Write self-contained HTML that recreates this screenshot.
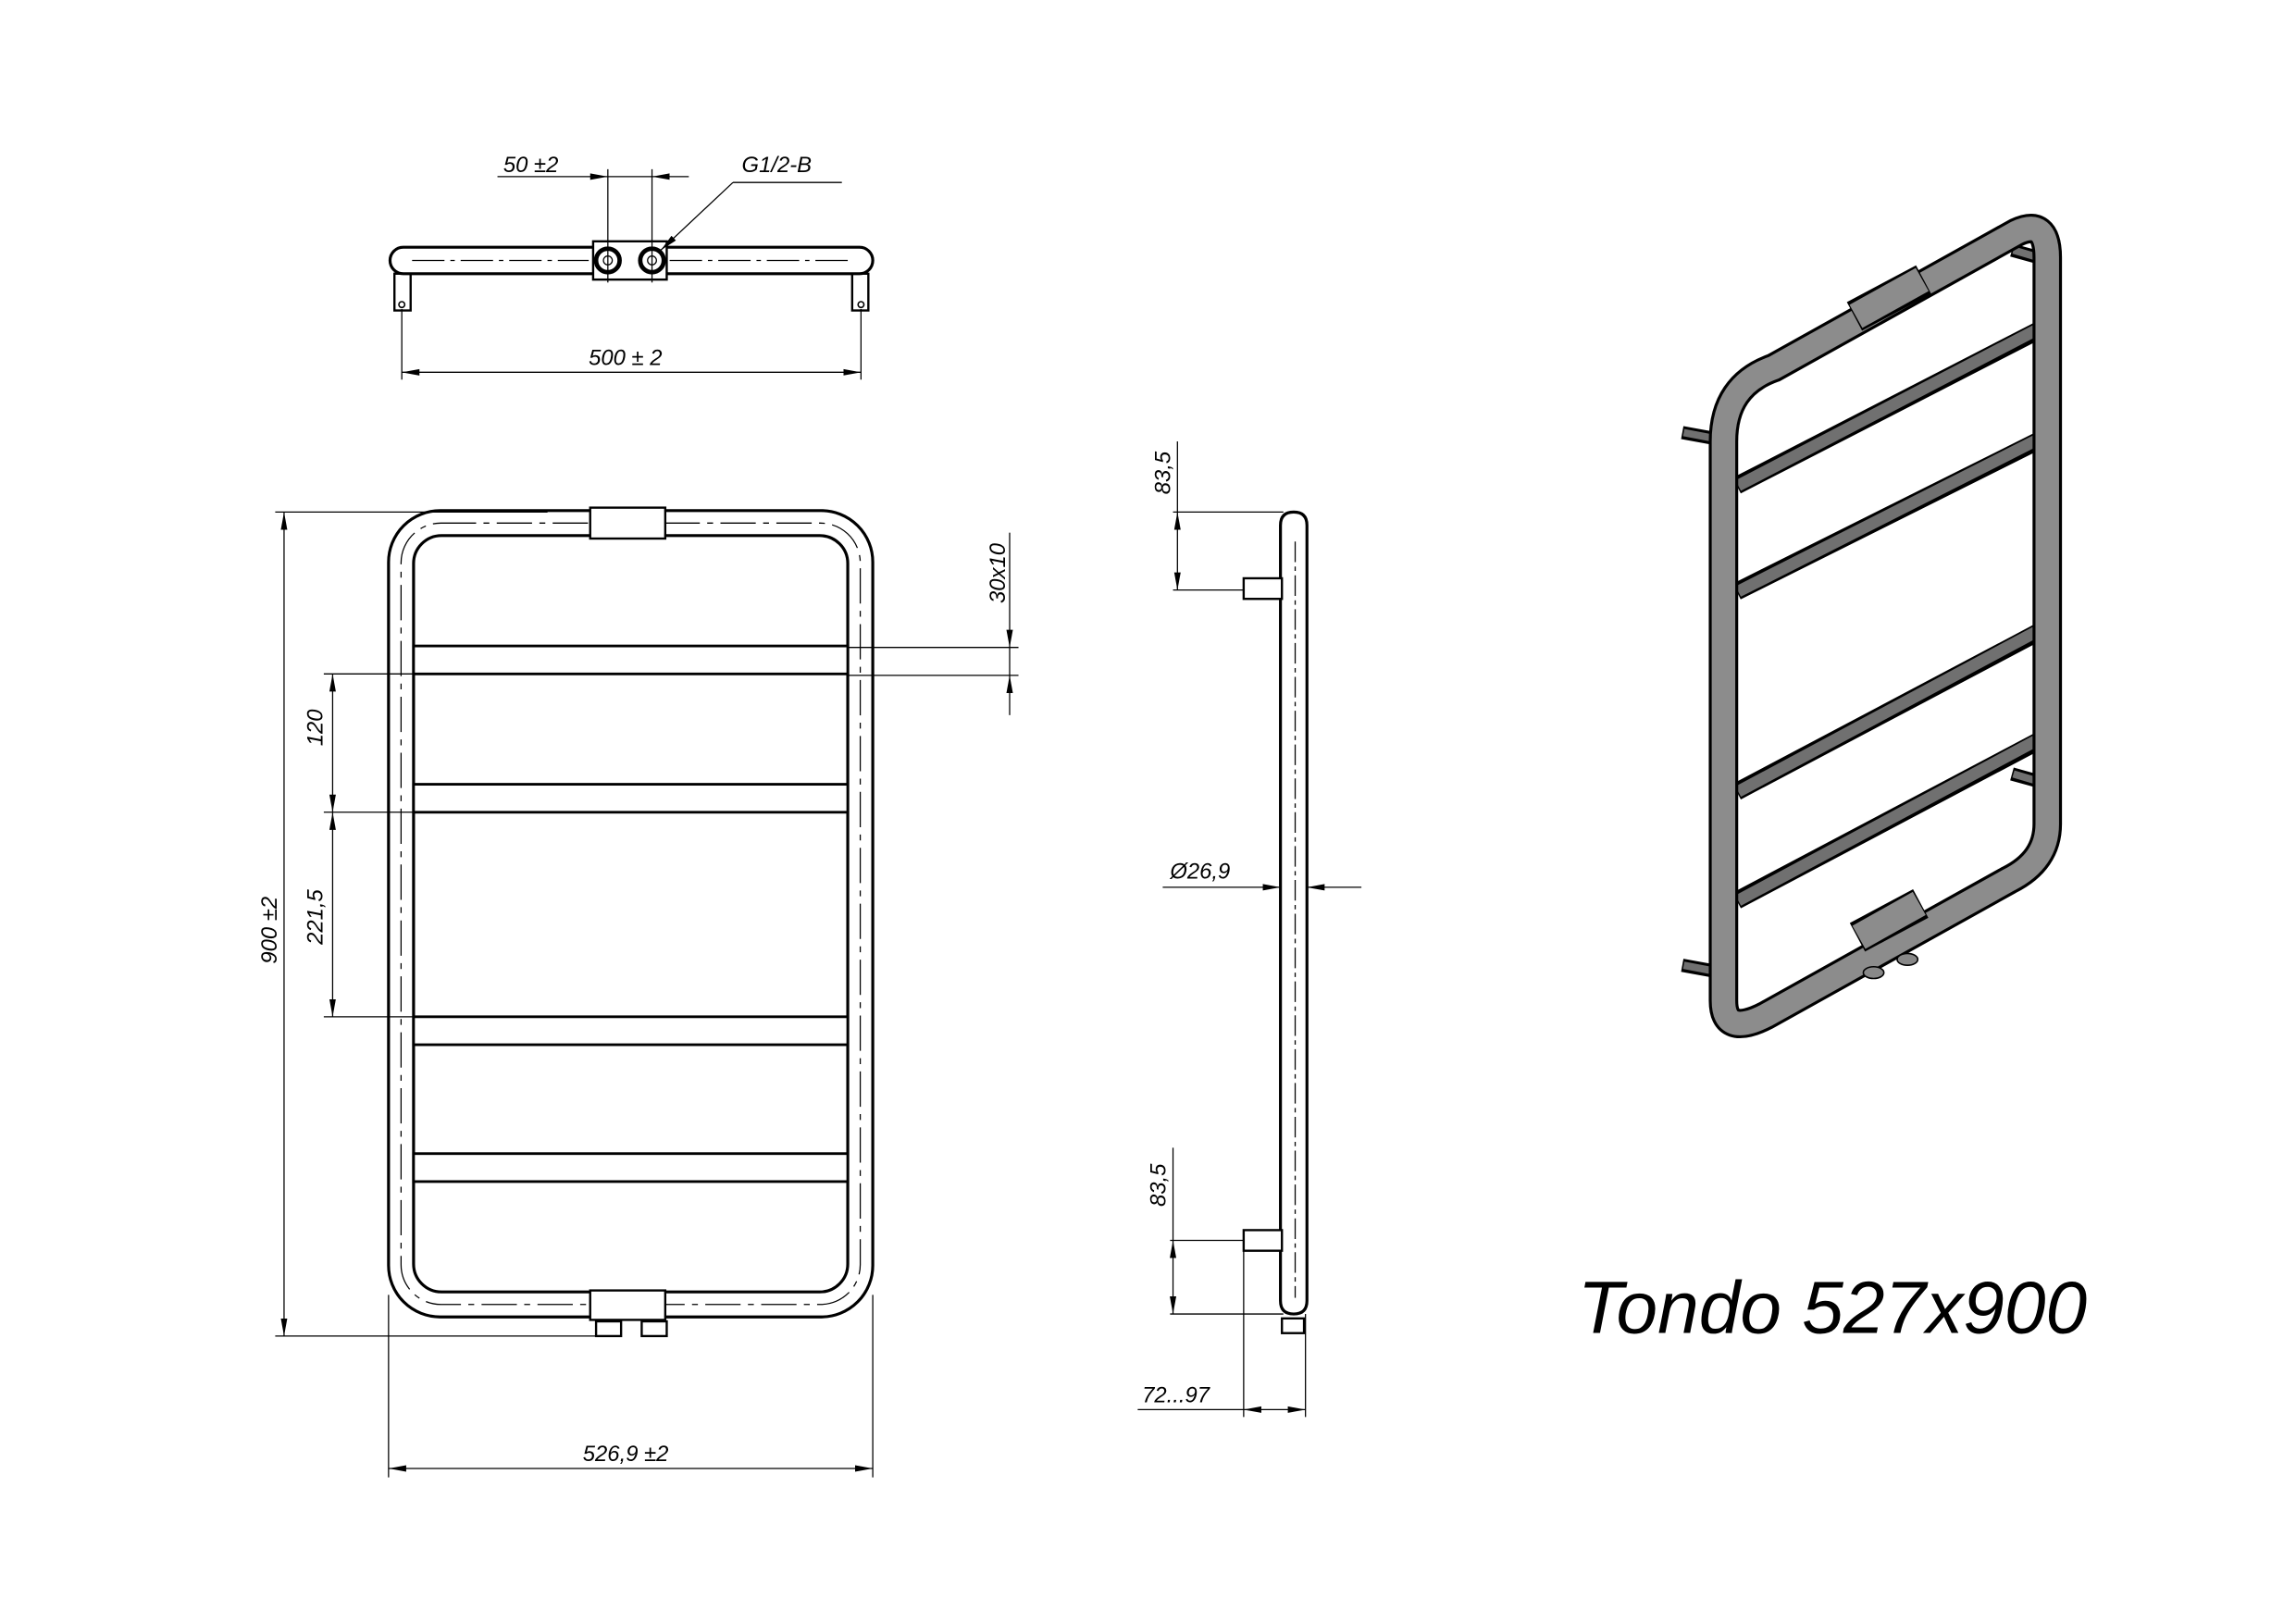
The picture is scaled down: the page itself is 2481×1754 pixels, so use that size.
<!DOCTYPE html>
<html><head><meta charset="utf-8"><style>
html,body{margin:0;padding:0;background:#fff;}
svg{display:block;}
text{font-family:"Liberation Sans",sans-serif;font-style:italic;fill:#000;}
</style></head><body>
<svg width="2481" height="1754" viewBox="0 0 1560 1103" preserveAspectRatio="none" xmlns="http://www.w3.org/2000/svg">
<defs>
<marker id="a" viewBox="0 0 12 6" refX="12" refY="3" markerWidth="12" markerHeight="6" markerUnits="userSpaceOnUse" orient="auto"><path d="M0,0.8 L12,3 L0,5.2 Z" fill="#000"/></marker>
<marker id="s" viewBox="0 0 12 6" refX="0" refY="3" markerWidth="12" markerHeight="6" markerUnits="userSpaceOnUse" orient="auto"><path d="M12,0.8 L0,3 L12,5.2 Z" fill="#000"/></marker>
</defs>
<rect width="1560" height="1103" fill="#fff"/>

<!-- ===== TOP VIEW ===== -->
<g fill="none" stroke="#000">
<rect x="265" y="168" width="328" height="18" rx="9" stroke-width="2"/>
<line x1="280" y1="177" x2="400" y2="177" stroke-width="0.8" stroke-dasharray="22,4,3,4"/>
<line x1="455" y1="177" x2="580" y2="177" stroke-width="0.8" stroke-dasharray="22,4,3,4"/>
<rect x="268" y="186" width="11" height="25" stroke-width="1.5"/>
<rect x="579" y="186" width="11" height="25" stroke-width="1.5"/>
<circle cx="273" cy="207" r="2" stroke-width="1"/>
<circle cx="585" cy="207" r="2" stroke-width="1"/>
<rect x="403" y="164" width="50" height="26" stroke-width="1.5" fill="#fff"/>
<circle cx="413" cy="177" r="8" stroke-width="3"/>
<circle cx="413" cy="177" r="3" stroke-width="0.8"/>
<circle cx="443" cy="177" r="8" stroke-width="3"/>
<circle cx="443" cy="177" r="3" stroke-width="0.8"/>
<line x1="413" y1="115" x2="413" y2="192" stroke-width="0.8"/>
<line x1="443" y1="115" x2="443" y2="192" stroke-width="0.8"/>
<line x1="338" y1="120" x2="413" y2="120" stroke-width="0.8" marker-end="url(#a)"/>
<line x1="413" y1="120" x2="443" y2="120" stroke-width="0.8"/>
<line x1="468" y1="120" x2="443" y2="120" stroke-width="0.8" marker-end="url(#a)"/>
<line x1="498" y1="124" x2="572" y2="124" stroke-width="0.8"/>
<line x1="498" y1="124" x2="449" y2="170" stroke-width="0.8" marker-end="url(#a)"/>
<line x1="273" y1="210" x2="273" y2="258" stroke-width="0.8"/>
<line x1="585" y1="210" x2="585" y2="258" stroke-width="0.8"/>
<line x1="273" y1="253" x2="585" y2="253" stroke-width="0.8" marker-start="url(#s)" marker-end="url(#a)"/>
</g>
<text x="342" y="117" font-size="15">50 ±2</text>
<text x="504" y="117" font-size="15">G1/2-B</text>
<text x="400" y="248" font-size="15">500 ± 2</text>

<!-- ===== FRONT VIEW ===== -->
<g fill="none" stroke="#000">
<rect x="264" y="347" width="329" height="548" rx="35" stroke-width="2"/>
<rect x="281" y="364" width="295" height="514" rx="19" stroke-width="2"/>
<rect x="272.5" y="355.5" width="312" height="531" rx="27" stroke-width="0.8" stroke-dasharray="24,5,4,5"/>
<rect x="401" y="345" width="51" height="21" stroke-width="1.5" fill="#fff"/>
<rect x="401" y="877" width="51" height="20" stroke-width="1.5" fill="#fff"/>
<rect x="405" y="898" width="17" height="10" stroke-width="1.5"/>
<rect x="436" y="898" width="17" height="10" stroke-width="1.5"/>
<rect x="281" y="439" width="295" height="19" stroke-width="1.8" fill="#fff"/>
<rect x="281" y="533" width="295" height="19" stroke-width="1.8" fill="#fff"/>
<rect x="281" y="691" width="295" height="19" stroke-width="1.8" fill="#fff"/>
<rect x="281" y="784" width="295" height="19" stroke-width="1.8" fill="#fff"/>
<line x1="187" y1="348" x2="372" y2="348" stroke-width="0.8"/>
<line x1="187" y1="908" x2="405" y2="908" stroke-width="0.8"/>
<line x1="193" y1="348" x2="193" y2="908" stroke-width="0.8" marker-start="url(#s)" marker-end="url(#a)"/>
<line x1="220" y1="458" x2="283" y2="458" stroke-width="0.8"/>
<line x1="220" y1="552" x2="283" y2="552" stroke-width="0.8"/>
<line x1="220" y1="691" x2="283" y2="691" stroke-width="0.8"/>
<line x1="226" y1="458" x2="226" y2="552" stroke-width="0.8" marker-start="url(#s)" marker-end="url(#a)"/>
<line x1="226" y1="552" x2="226" y2="691" stroke-width="0.8" marker-start="url(#s)" marker-end="url(#a)"/>
<line x1="576" y1="440" x2="692" y2="440" stroke-width="0.8"/>
<line x1="576" y1="459" x2="692" y2="459" stroke-width="0.8"/>
<line x1="686" y1="362" x2="686" y2="440" stroke-width="0.8" marker-end="url(#a)"/>
<line x1="686" y1="440" x2="686" y2="459" stroke-width="0.8"/>
<line x1="686" y1="486" x2="686" y2="459" stroke-width="0.8" marker-end="url(#a)"/>
<line x1="264" y1="880" x2="264" y2="1004" stroke-width="0.8"/>
<line x1="593" y1="880" x2="593" y2="1004" stroke-width="0.8"/>
<line x1="264" y1="998" x2="593" y2="998" stroke-width="0.8" marker-start="url(#s)" marker-end="url(#a)"/>
</g>
<text transform="translate(188,655) rotate(-90)" font-size="15">900 ±2</text>
<text transform="translate(219,507) rotate(-90)" font-size="15">120</text>
<text transform="translate(219,642) rotate(-90)" font-size="15">221,5</text>
<text transform="translate(683,410) rotate(-90)" font-size="15">30x10</text>
<text x="396" y="993" font-size="15">526,9 ±2</text>

<!-- ===== SIDE VIEW ===== -->
<g fill="none" stroke="#000">
<path d="M870,357 Q870,348 879,348 Q888,348 888,357 L888,884 Q888,893 879,893 Q870,893 870,884 Z" stroke-width="2"/>
<line x1="880" y1="368" x2="880" y2="882" stroke-width="0.8" stroke-dasharray="14,3,3,3"/>
<rect x="845" y="393" width="26" height="14" stroke-width="1.5" fill="#fff"/>
<rect x="845" y="836" width="26" height="14" stroke-width="1.5" fill="#fff"/>
<rect x="871" y="896" width="15" height="10" stroke-width="1.5"/>
<line x1="797" y1="348" x2="872" y2="348" stroke-width="0.8"/>
<line x1="797" y1="401" x2="845" y2="401" stroke-width="0.8"/>
<line x1="800" y1="300" x2="800" y2="348" stroke-width="0.8"/>
<line x1="800" y1="348" x2="800" y2="401" stroke-width="0.8" marker-start="url(#s)" marker-end="url(#a)"/>
<line x1="795" y1="843" x2="845" y2="843" stroke-width="0.8"/>
<line x1="795" y1="893" x2="872" y2="893" stroke-width="0.8"/>
<line x1="797" y1="780" x2="797" y2="843" stroke-width="0.8"/>
<line x1="797" y1="843" x2="797" y2="893" stroke-width="0.8" marker-start="url(#s)" marker-end="url(#a)"/>
<line x1="790" y1="603" x2="870" y2="603" stroke-width="0.8" marker-end="url(#a)"/>
<line x1="925" y1="603" x2="888" y2="603" stroke-width="0.8" marker-end="url(#a)"/>
<line x1="845" y1="843" x2="845" y2="963" stroke-width="0.8"/>
<line x1="887" y1="893" x2="887" y2="963" stroke-width="0.8"/>
<line x1="773" y1="958" x2="845" y2="958" stroke-width="0.8"/>
<line x1="845" y1="958" x2="887" y2="958" stroke-width="0.8" marker-start="url(#s)" marker-end="url(#a)"/>
</g>
<text transform="translate(795,336) rotate(-90)" font-size="15">83,5</text>
<text transform="translate(792,820) rotate(-90)" font-size="15">83,5</text>
<text x="795" y="597" font-size="15">Ø26,9</text>
<text x="776" y="953" font-size="15">72...97</text>

<!-- ===== ISO VIEW ===== -->
<g stroke-linecap="butt" fill="none">
<g stroke="#000" stroke-width="9"><line x1="1143" y1="294" x2="1165" y2="298"/><line x1="1143" y1="656" x2="1165" y2="660"/><line x1="1367" y1="170" x2="1385" y2="175"/><line x1="1367" y1="526" x2="1385" y2="531"/></g>
<g stroke="#707070" stroke-width="5"><line x1="1144" y1="294" x2="1165" y2="298"/><line x1="1144" y1="656" x2="1165" y2="660"/><line x1="1368" y1="170" x2="1385" y2="175"/><line x1="1368" y1="526" x2="1385" y2="531"/></g>
<g stroke="#000" stroke-width="12">
<line x1="1180" y1="330" x2="1388" y2="223"/><line x1="1180" y1="402" x2="1388" y2="298"/><line x1="1180" y1="538" x2="1388" y2="428"/><line x1="1180" y1="612" x2="1388" y2="502"/></g>
<g stroke="#707070" stroke-width="8">
<line x1="1181" y1="330" x2="1386" y2="223"/><line x1="1181" y1="402" x2="1386" y2="298"/><line x1="1181" y1="538" x2="1386" y2="428"/><line x1="1181" y1="612" x2="1386" y2="502"/></g>
<path d="M1171,300 Q1171,262 1205,250 L1370,158 Q1391,148 1391,175 L1391,560 Q1391,585 1365,598 L1200,690 Q1171,705 1171,680 Z" stroke="#000" stroke-width="20" stroke-linejoin="round"/>
<path d="M1171,300 Q1171,262 1205,250 L1370,158 Q1391,148 1391,175 L1391,560 Q1391,585 1365,598 L1200,690 Q1171,705 1171,680 Z" stroke="#8c8c8c" stroke-width="16" stroke-linejoin="round"/>
<line x1="1260" y1="215" x2="1307" y2="190" stroke="#000" stroke-width="22"/>
<line x1="1261" y1="215" x2="1306" y2="190" stroke="#8c8c8c" stroke-width="18"/>
<line x1="1262" y1="637" x2="1305" y2="614" stroke="#000" stroke-width="22"/>
<line x1="1263" y1="637" x2="1304" y2="614" stroke="#8c8c8c" stroke-width="18"/>
<ellipse cx="1273" cy="661" rx="7" ry="4" fill="#888" stroke="#000"/>
<ellipse cx="1296" cy="652" rx="7" ry="4" fill="#888" stroke="#000"/>
</g>

<text x="1072" y="906" font-size="50" textLength="346" lengthAdjust="spacingAndGlyphs">Tondo 527x900</text>
</svg>
</body></html>
